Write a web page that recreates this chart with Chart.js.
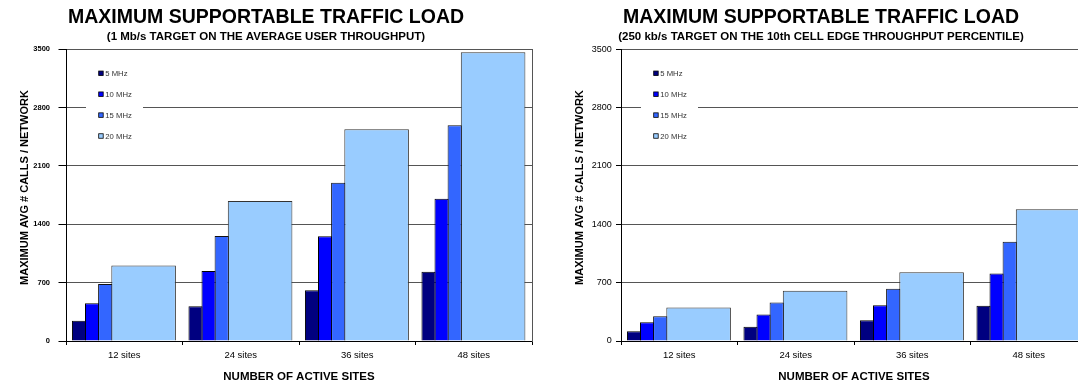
<!DOCTYPE html>
<html>
<head>
<meta charset="utf-8">
<title>Maximum supportable traffic load</title>
<script src="https://cdn.jsdelivr.net/npm/chart.js@4.4.1/dist/chart.umd.min.js"></script>
<style>
  html, body { margin: 0; padding: 0; background: #fff; overflow: hidden; }
  #page { position: relative; width: 1078px; height: 385px; overflow: hidden; background: #fff; }
  #page canvas { position: absolute; top: 0; }
  #avgChart { left: 0; }
  #edgeChart { left: 555px; }
</style>
</head>
<body>
<div id="page">
  <canvas id="avgChart" width="564" height="385"></canvas>
  <canvas id="edgeChart" width="564" height="385"></canvas>
</div>
<script>
// ---- data -------------------------------------------------------------
const categories = ['12 sites', '24 sites', '36 sites', '48 sites'];
const bandwidths = ['5 MHz', '10 MHz', '15 MHz', '20 MHz'];
const yTicks = [0, 700, 1400, 2100, 2800, 3500];

// 1 Mb/s target on the average user throughput
const avg5MHz  = [244, 416, 608, 831];
const avg10MHz = [452, 840, 1258, 1706];
const avg15MHz = [683, 1260, 1900, 2589];
const avg20MHz = [907, 1680, 2541, 3464];

// 250 kb/s target on the 10th cell edge throughput percentile
const edge5MHz  = [118, 170, 250, 422];
const edge10MHz = [226, 318, 430, 810];
const edge15MHz = [298, 462, 626, 1190];
const edge20MHz = [402, 602, 826, 1580];

// ---- look -------------------------------------------------------------
const FONT = "'Liberation Sans', Arial, Helvetica, sans-serif";
Chart.defaults.font.family = FONT;
Chart.defaults.color = '#000';

const barColors  = ['#000080', '#0000FF', '#3366FF', '#99CCFF'];
const barBorders = ['#000000', '#000000', '#111111', '#333333'];
// where each bandwidth sits inside its site group (fraction of the group width)
const slotCenters = [0.1116, 0.2236, 0.3365, 0.6661];
const slotWidths  = [0.121, 0.121, 0.122, 0.5545];

// Legend drawn inside the plot on a white card
const boxLegend = {
  id: 'boxLegend',
  beforeDatasetsDraw(chart, args, o) {
    const { ctx, chartArea } = chart;
    const x0 = chartArea.left, y0 = chartArea.top;
    ctx.save();
    ctx.fillStyle = '#fff';
    ctx.fillRect(x0 + o.cardLeft, y0 + o.cardTop, o.cardWidth, o.cardHeight);
    ctx.font = o.fontSize + 'px ' + FONT;
    ctx.textBaseline = 'middle';
    ctx.textAlign = 'left';
    chart.data.datasets.forEach((ds, i) => {
      const cy = y0 + o.firstRow + i * o.rowStep;
      const mx = x0 + o.markerLeft;
      ctx.fillStyle = ds.backgroundColor;
      ctx.fillRect(mx, cy - o.markerSize / 2, o.markerSize, o.markerSize);
      ctx.strokeStyle = '#000';
      ctx.lineWidth = 0.8;
      ctx.strokeRect(mx, cy - o.markerSize / 2, o.markerSize, o.markerSize);
      ctx.fillStyle = '#333';
      ctx.fillText(ds.label, x0 + o.textLeft, cy + 0.5);
    });
    ctx.restore();
  }
};

function buildChart(canvasId, series, subtitle, yTickFont, yTickLength, yTickPadding) {
  const datasets = series.map((values, s) => ({
    label: bandwidths[s],
    data: values.map((v, i) => ({ x: i + slotCenters[s], y: v })),
    xAxisID: 'x' + s,
    yAxisID: 'y',
    grouped: false,
    backgroundColor: barColors[s],
    borderColor: barBorders[s],
    borderWidth: 1,
    borderSkipped: 'bottom',
    categoryPercentage: 1,
    barPercentage: slotWidths[s]
  }));

  const scales = {
    x: {
      type: 'category',
      labels: categories,
      position: 'bottom',
      offset: true,
      grid: { offset: true, drawOnChartArea: false, drawTicks: true, tickLength: 4, color: '#000', tickColor: '#000', lineWidth: 1 },
      border: { display: true, color: '#000', width: 1 },
      ticks: { color: '#000', font: { size: 9.5, lineHeight: 1.2 }, padding: 4.7, maxRotation: 0, autoSkip: false },
      title: { display: true, text: 'NUMBER OF ACTIVE SITES', color: '#000',
               font: { size: 11.5, weight: 'bold', lineHeight: 1.2 }, padding: { top: 0, bottom: 1.7 } },
      afterFit: sc => { sc.height = 44; }
    },
    y: {
      type: 'linear',
      position: 'left',
      min: 0,
      max: 3500,
      afterBuildTicks: sc => { sc.ticks = yTicks.map(v => ({ value: v })); },
      ticks: { color: '#000', font: yTickFont, padding: yTickPadding, callback: v => String(v) },
      grid: {
        color: c => (c.tick && c.tick.value === 0 ? '#000' : '#555'),
        lineWidth: 1,
        drawTicks: true,
        tickLength: yTickLength,
        tickColor: '#000'
      },
      border: { display: true, color: '#000', width: 1 },
      title: { display: true, text: '     MAXIMUM AVG # CALLS / NETWORK', color: '#000',
               font: { size: 11, weight: 'bold', lineHeight: 1.2 }, padding: { top: 18.4, bottom: 0 } },
      afterFit: sc => { sc.width = 66; }
    },
    yRight: {
      type: 'linear',
      axis: 'y',
      position: 'right',
      display: true,
      ticks: { display: false },
      grid: { display: false, drawTicks: false },
      border: { display: true, color: '#555', width: 1 },
      afterFit: sc => { sc.width = 0; }
    }
  };
  for (let s = 0; s < series.length; s++) {
    scales['x' + s] = {
      type: 'linear',
      axis: 'x',
      position: 'bottom',
      display: false,
      offset: false,
      min: 0,
      max: categories.length,
      ticks: { stepSize: 1 },
      grid: { offset: false }
    };
  }

  return new Chart(document.getElementById(canvasId), {
    type: 'bar',
    data: { labels: categories, datasets },
    options: {
      responsive: false,
      animation: false,
      devicePixelRatio: 1,
      events: [],
      layout: { padding: { left: 0, right: 32, top: 0, bottom: 0 } },
      scales,
      plugins: {
        legend: { display: false },
        tooltip: { enabled: false },
        title: {
          display: true, text: 'MAXIMUM SUPPORTABLE TRAFFIC LOAD', color: '#000',
          font: { size: 19.5, weight: 'bold', lineHeight: 1 }, padding: { top: 7.75, bottom: 0 }
        },
        subtitle: {
          display: true, text: subtitle, color: '#000',
          font: { size: 11.5, weight: 'bold', lineHeight: 1 }, padding: { top: 3.7, bottom: 6.85 }
        },
        boxLegend: {
          cardLeft: 20, cardTop: 12.7, cardWidth: 57, cardHeight: 85,
          markerLeft: 32.7, markerSize: 4.5, textLeft: 39.3,
          firstRow: 24, rowStep: 20.9, fontSize: 7.7
        }
      }
    },
    plugins: [boxLegend]
  });
}

buildChart('avgChart',
  [avg5MHz, avg10MHz, avg15MHz, avg20MHz],
  '(1 Mb/s TARGET ON THE AVERAGE USER THROUGHPUT)',
  { size: 7.5, weight: 'bold', lineHeight: 1.2 }, 7.5, 8.5);

buildChart('edgeChart',
  [edge5MHz, edge10MHz, edge15MHz, edge20MHz],
  '(250 kb/s TARGET ON THE 10th CELL EDGE THROUGHPUT PERCENTILE)',
  { size: 9, weight: 'normal', lineHeight: 1.2 }, 5, 4.3);
</script>
</body>
</html>
